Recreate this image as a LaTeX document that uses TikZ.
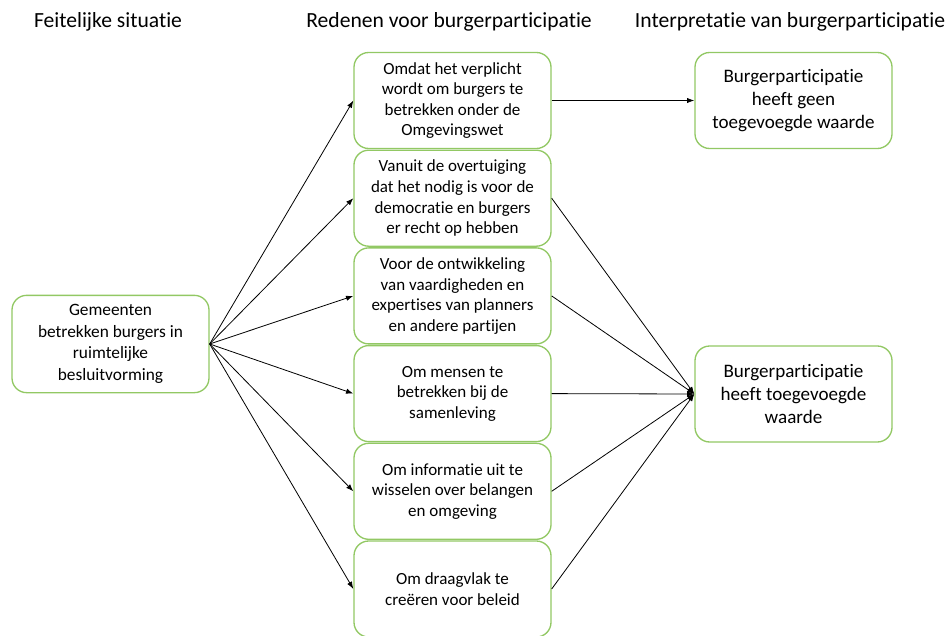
\documentclass[tikz,border=0pt]{standalone}
\usepackage{fontspec}
\setmainfont{Carlito}[Ligatures=CommonOff]
\usepackage{tikz}
\usetikzlibrary{arrows, arrows.meta, positioning}
\definecolor{boxgreen}{RGB}{146,200,100}
\tikzset{>={Latex[length=5.5pt, width=4pt]}}
\tikzset{box/.style={draw=boxgreen, line width=1pt, rounded corners=11pt, align=center,
    minimum width=147.75pt, minimum height=72pt, inner sep=2pt}}
\tikzset{kop/.style={font=\fontsize{16.2}{19}\selectfont}}
\tikzset{feit/.style={box, minimum height=73pt, font=\fontsize{13}{16.2}\selectfont}}
\tikzset{reden/.style={box, font=\fontsize{12.75}{15.4}\selectfont}}
\tikzset{interp/.style={box, font=\fontsize{14.3}{17.4}\selectfont}}
\tikzset{pijl/.style={->, line width=0.6pt}}

\begin{document}
\begin{tikzpicture}[x=0.75pt, y=-0.75pt]
          \useasboundingbox (0,0) rectangle (952,635);
          % kopjes
          \node[kop] (hfeit) at (108, 22) {Feitelijke situatie};
          \node[kop] (hreden) at (449, 22) {Redenen voor burgerparticipatie};
          \node[kop] (hinterp) at (790, 22) {Interpretatie van burgerparticipatie};
          % linker kolom
          \node[feit] (gem) at (110.5, 344) {Gemeenten\\betrekken burgers in\\ruimtelijke\\besluitvorming};
          % redenen
          \node[reden] (r1) at (452.5, 100.5) {Omdat het verplicht\\wordt om burgers te\\betrekken onder de\\Omgevingswet};
          \node[reden] (r2) at (452.5, 198.2) {Vanuit de overtuiging\\dat het nodig is voor de\\democratie en burgers\\er recht op hebben};
          \node[reden] (r3) at (452.5, 295.9) {Voor de ontwikkeling\\van vaardigheden en\\expertises van planners\\en andere partijen};
          \node[reden] (r4) at (452.5, 393.6) {Om mensen te\\betrekken bij de\\samenleving};
          \node[reden] (r5) at (452.5, 491.3) {Om informatie uit te\\wisselen over belangen\\en omgeving};
          \node[reden] (r6) at (452.5, 589) {Om draagvlak te\\creëren voor beleid};
          % interpretatie
          \node[interp] (geen) at (793.5, 100.5) {Burgerparticipatie\\heeft geen\\toegevoegde waarde};
          \node[interp] (wel) at (793.5, 394) {Burgerparticipatie\\heeft toegevoegde\\waarde};
          % pijlen
          \foreach \i in {1,...,6}
            \draw[pijl] (gem.east) -- (r\i.west);
          \draw[pijl] (r1.east) -- (geen.west);
          \foreach \i in {2,...,6}
            \draw[pijl] (r\i.east) -- (wel.west);
        \end{tikzpicture}
\end{document}
